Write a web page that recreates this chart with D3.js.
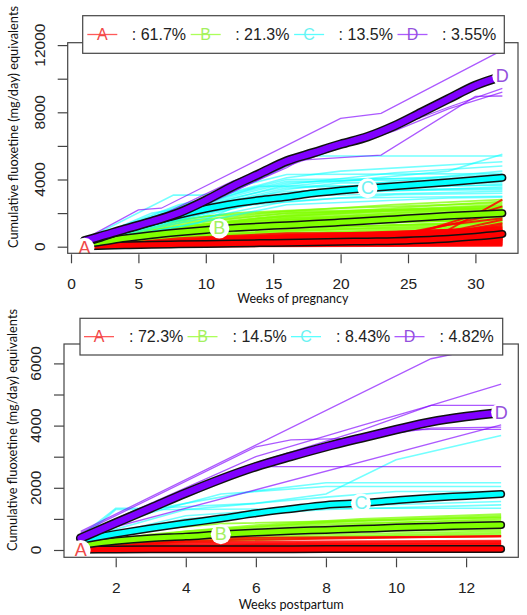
<!DOCTYPE html>
<html><head><meta charset="utf-8">
<script src="https://cdn.jsdelivr.net/npm/d3@7"></script>
<style>body{margin:0;background:#fff;} svg{display:block;}</style>
</head><body>
<svg id="chart" width="527" height="615"></svg>
<script>
// ---------------- DATA ----------------
const classes = ["A", "B", "C", "D"];
const classColors = ["#FF0000", "#80FF00", "#00FFFF", "#8000FF"];

const pregPercents = ["61.7%", "21.3%", "13.5%", "3.55%"];
const postPercents = ["72.3%", "14.5%", "8.43%", "4.82%"];

const pregXTicks = [0, 5, 10, 15, 20, 25, 30];
const pregYTicks = [0, 2000, 4000, 6000, 8000, 10000, 12000];
const pregYLabels = [0, 4000, 8000, 12000];
const postXTicks = [2, 4, 6, 8, 10, 12];
const postYTicks = [0, 1000, 2000, 3000, 4000, 5000, 6000];
const postYLabels = [0, 2000, 4000, 6000];

const pregXTitle = "Weeks of pregnancy";
const postXTitle = "Weeks postpartum";
const yTitle = "Cumulative fluoxetine (mg/day) equivalents";

// class mean trajectories (pregnancy)
const pregMeanWeeks = [1, 2, 4, 6, 8, 10, 12, 14, 16, 18, 20, 22, 24, 26, 28, 30, 32];
const pregMeanA = [30, 40, 80, 110, 140, 165, 190, 215, 240, 265, 290, 315, 340, 400, 480, 600, 760];
const pregMeanB = [150, 250, 500, 700, 860, 1000, 1120, 1200, 1280, 1360, 1450, 1540, 1640, 1740, 1840, 1920, 1990];
const pregMeanC = [250, 480, 1020, 1480, 1900, 2260, 2560, 2780, 2960, 3180, 3340, 3480, 3600, 3720, 3840, 3970, 4110];
const pregMeanD = [350, 570, 1050, 1500, 2020, 2760, 3600, 4350, 5100, 5600, 6100, 6550, 7200, 8000, 8800, 9600, 10150];

// class mean trajectories (postpartum)
const postMeanWeeks = [1, 2, 3, 4, 5, 6, 7, 8, 9, 10, 11, 12, 13];
const postMeanA = [10, 15, 20, 22, 24, 25, 27, 28, 30, 31, 32, 33, 35];
const postMeanB = [160, 290, 380, 430, 505, 560, 610, 645, 680, 720, 750, 780, 805];
const postMeanC = [320, 520, 700, 860, 1010, 1180, 1320, 1450, 1510, 1600, 1680, 1740, 1800];
const postMeanD = [380, 870, 1350, 1830, 2280, 2680, 3010, 3320, 3600, 3870, 4120, 4290, 4420];

// curve label positions [week, value]
const pregLabelPos = [[1, -60], [11, 1090], [22, 3480], [32, 10150]];
const postLabelPos = [[1, 0], [5, 505], [9, 1505], [13, 4420]];

// individual trajectories, pregnancy: [week, cumulative value]
const pregLinesA = [
  [[1,0],[32,100]], [[1,0],[32,200]], [[1,0],[16,150],[32,300]], [[1,50],[16,200],[32,400]],
  [[1,50],[16,300],[32,500]], [[1,0],[16,350],[32,600]], [[1,100],[16,400],[32,700]],
  [[1,0],[16,450],[32,800]], [[1,100],[16,500],[32,900]], [[1,50],[16,600],[32,1000]],
  [[1,100],[16,700],[32,1100]], [[1,0],[12,600],[24,800],[32,900]], [[1,0],[8,500],[16,800],[32,850]],
  [[1,100],[8,400],[16,700],[32,700]], [[1,0],[16,400],[24,700],[28,1000],[32,2800]],
  [[1,0],[20,300],[26,900],[32,2400]], [[1,50],[24,600],[32,2000]], [[1,0],[24,700],[28,1300],[32,1700]],
  [[1,0],[32,50]], [[1,20],[32,150]], [[1,0],[8,100],[32,250]], [[1,0],[20,200],[32,350]],
  [[1,0],[32,450]], [[1,30],[16,250],[32,550]], [[1,0],[24,400],[32,650]], [[1,0],[28,500],[32,750]],
  [[1,0],[10,300],[32,950]], [[1,50],[8,300],[16,500],[32,600]], [[1,0],[16,100],[32,1200]],
  [[1,0],[24,300],[32,1400]], [[1,20],[12,200],[32,500]], [[1,0],[16,50],[32,320]],
  [[1,0],[8,200],[32,420]], [[1,0],[20,500],[32,1050]], [[1,0],[12,350],[26,600],[32,1300]],
  [[1,0],[18,600],[28,900],[32,1600]], [[1,40],[14,450],[32,680]], [[1,0],[22,550],[32,780]],
  [[1,0],[16,200],[32,380]], [[1,0],[16,280],[32,520]], [[1,0],[16,320],[32,580]], [[1,0],[12,250],[32,720]],
  [[1,0],[16,420],[32,820]], [[1,0],[16,520],[32,880]], [[1,0],[20,600],[32,960]], [[1,0],[16,650],[32,1000]],
  [[1,0],[8,250],[24,600],[32,700]], [[1,0],[24,200],[32,260]], [[1,0],[16,80],[32,180]],
  [[1,0],[28,300],[32,900]], [[1,0],[12,150],[32,460]], [[1,0],[20,420],[32,640]], [[1,0],[10,400],[32,1150]],
  [[1,0],[8,150],[20,380],[32,540]], [[1,0],[6,250],[18,560],[32,760]], [[1,0],[14,300],[32,620]],
  [[1,0],[10,200],[26,500],[32,860]], [[1,0],[20,100],[32,480]], [[1,0],[4,150],[20,650],[32,920]]
];
const pregLinesB = [
  [[1,200],[8,1500],[16,2100],[24,2500],[32,2800]], [[1,150],[8,1200],[16,1900],[24,2300],[32,2700]],
  [[1,250],[6,1400],[12,2000],[20,2300],[32,2600]], [[1,100],[8,1100],[16,1800],[24,2200],[32,2500]],
  [[1,150],[8,1300],[16,2000],[32,2400]], [[1,100],[8,900],[16,1600],[24,2000],[32,2350]],
  [[1,200],[8,1400],[16,2000],[32,2300]], [[1,100],[8,1000],[16,1700],[24,2000],[32,2200]],
  [[1,150],[8,800],[16,1500],[24,1900],[32,2100]], [[1,100],[8,1100],[16,1700],[32,2050]],
  [[1,100],[8,900],[16,1400],[24,1750],[32,2000]], [[1,50],[8,700],[16,1300],[24,1650],[32,1900]],
  [[1,100],[8,1000],[16,1500],[32,1850]], [[1,100],[8,800],[16,1300],[24,1600],[32,1800]],
  [[1,50],[8,600],[16,1200],[24,1500],[32,1700]], [[1,100],[8,900],[16,1300],[32,1600]],
  [[1,50],[8,500],[16,1000],[24,1300],[32,1500]], [[1,100],[8,700],[16,1100],[32,1450]],
  [[1,50],[8,500],[16,900],[24,1200],[32,1350]], [[1,100],[8,600],[16,1000],[32,1250]],
  [[1,50],[8,400],[16,800],[24,1000],[32,1150]], [[1,50],[8,500],[16,800],[32,1050]],
  [[1,200],[5,1200],[10,1800],[16,2100],[32,2300]], [[1,150],[6,1000],[12,1500],[20,1700],[32,1900]],
  [[1,100],[8,1000],[16,1600],[32,2150]], [[1,80],[8,750],[16,1250],[32,1650]],
  [[1,120],[8,950],[16,1450],[32,1750]], [[1,80],[8,650],[16,1150],[32,1400]],
  [[1,150],[8,1150],[16,1850],[32,2450]], [[1,60],[8,550],[16,950],[32,1200]],
  [[1,100],[6,900],[14,1700],[24,2100],[32,2250]], [[1,80],[10,1100],[20,1500],[32,1550]]
];
const pregLinesC = [
  [[1,400],[7.6,3070],[9.6,3070],[12,3300],[17.5,5400],[32,5400]],
  [[1,300],[8,2200],[16,3600],[24,4200],[28,4500],[32,5500]],
  [[1,350],[8,2400],[16,4100],[20,4500],[32,5060]], [[1,300],[8,2000],[16,3700],[24,4400],[32,4800]],
  [[1,300],[8,2300],[12,3500],[16,4300],[32,4350]], [[1,250],[8,1800],[16,3200],[24,3900],[32,4500]],
  [[1,250],[8,1900],[16,3400],[20,3800],[32,3800]], [[1,300],[8,2100],[14,3600],[32,3650]],
  [[1,250],[8,1500],[16,3000],[24,3400],[32,3480]], [[1,200],[8,1700],[16,3000],[32,3300]],
  [[1,200],[8,1400],[16,2700],[24,3100],[32,3180]], [[1,250],[8,1600],[12,2400],[20,2900],[32,3000]],
  [[1,200],[8,1200],[16,2500],[28,2900],[32,2950]], [[1,300],[6,2000],[10,2500],[16,3300],[32,3400]],
  [[1,200],[9.4,1390],[12,2300],[16,3000],[24,3600],[32,4200]], [[1,350],[8,2500],[12,3200],[16,4000],[32,4100]],
  [[1,300],[8,2300],[16,3900],[32,4000]], [[1,250],[8,1700],[16,2900],[24,3500],[32,3700]],
  [[1,250],[8,2000],[16,3500],[32,3900]], [[1,300],[8,2200],[16,3800],[32,4300]],
  [[1,200],[8,1600],[16,3100],[32,3550]]
];
const pregLinesD = [
  [[1,450],[5,2190],[6.7,2290],[20,7640],[23,7940],[32,11700]],
  [[1,400],[8,1900],[16,4700],[17,5150],[23,5450],[30,8950],[32,8970]],
  [[1,420],[8,1750],[16,4950],[20,6000],[23,6800],[28,8300],[32,9430]],
  [[1,380],[8,1700],[16,4800],[20,5900],[24,6900],[28,8200],[32,9200]],
  [[1,500],[7,2000],[12,3900],[16,5000],[23,6800],[32,10100]]
];

// individual trajectories, postpartum
const postLinesA = [
  [[1,0],[3,250],[13,300]], [[1,0],[2,150],[13,220]], [[1,0],[4,300],[13,450]], [[1,0],[5,100],[13,150]],
  [[1,0],[13,50]], [[1,0],[13,80]], [[1,0],[13,10]], [[1,0],[13,100]], [[1,20],[13,60]],
  [[1,0],[4,40],[13,90]], [[1,0],[3,380],[13,430]], [[1,0],[2,120],[13,130]],
  [[1,0],[3,200],[13,260]], [[1,0],[6,170],[13,190]]
];
const postLinesB = [
  [[1,200],[3,500],[6,800],[9,1000],[13,1150]], [[1,150],[3,450],[6,750],[9,950],[13,1100]],
  [[1,180],[4,600],[8,900],[13,1050]], [[1,150],[4,500],[8,800],[13,1000]],
  [[1,120],[3,350],[6,600],[9,800],[13,900]], [[1,150],[4,450],[8,700],[13,850]],
  [[1,100],[3,300],[6,500],[9,650],[13,750]], [[1,120],[4,400],[8,600],[13,700]],
  [[1,100],[4,350],[8,500],[13,600]], [[1,80],[3,250],[7,420],[13,550]],
  [[1,80],[4,300],[8,420],[13,500]], [[1,60],[4,250],[8,380],[13,450]],
  [[1,200],[2,550],[5,850],[13,1050]], [[1,150],[4,550],[8,850],[13,950]],
  [[1,100],[4,420],[8,650],[13,800]], [[1,90],[5,450],[9,600],[13,650]]
];
const postLinesC = [
  [[1,450],[2,1340],[3,1340],[6,1500],[8,1800],[10,2900],[13,3680]],
  [[1,500],[3,1300],[6,1900],[8,2160],[13,2160]], [[1,400],[3,1200],[5,1800],[8,2040],[13,2040]],
  [[1,350],[4,1300],[8,1700],[10,1880],[13,1880]], [[1,300],[4,1100],[8,1400],[13,1560]],
  [[1,300],[4,1000],[8,1300],[13,1450]], [[1,350],[2,1300],[4,1300],[8,1340],[13,1340]]
];
const postLinesD = [
  [[1,600],[11,6150],[13,6620]], [[1,500],[3,1500],[6,3000],[9,4000],[11,4650],[13,5330]],
  [[1,450],[4,1900],[6,2800],[9,3850],[11,4650],[13,4650]], [[1,450],[13,4020]],
  [[1,400],[4,1900],[6,2750],[8,3300],[10,3850],[11,3880],[13,3880]],
  [[1,550],[6,3320],[7,3540],[9,3600],[11,3920],[13,3950]], [[1,400],[4,1800],[6,2680],[13,2680]]
];

// ---------------- LAYOUT ----------------
const panels = [
  {
    box: {x0: 67.7, x1: 518, y0: 42.7, y1: 253.3},
    xDomain: [-0.245, 33.16], yDomain: [-393, 12143],
    xTicks: pregXTicks, yTicks: pregYTicks, yLabels: pregYLabels,
    meanWeeks: pregMeanWeeks, means: [pregMeanA, pregMeanB, pregMeanC, pregMeanD],
    lines: [pregLinesA, pregLinesB, pregLinesC, pregLinesD],
    labels: pregLabelPos, percents: pregPercents,
    legend: {x0: 82.7, x1: 504.3, y0: 15.7, y1: 53.3, first: 87.3, step: 103.4, textOff: 44.5},
    xTitle: pregXTitle, xTitleY: 298, xTitleLen: 111,
    yTitleX: 13, yTitleY: 127, yLabelX: 39
  },
  {
    box: {x0: 64, x1: 518.3, y0: 344, y1: 557.3},
    xDomain: [0.524, 13.49], yDomain: [-235, 6624],
    xTicks: postXTicks, yTicks: postYTicks, yLabels: postYLabels,
    meanWeeks: postMeanWeeks, means: [postMeanA, postMeanB, postMeanC, postMeanD],
    lines: [postLinesA, postLinesB, postLinesC, postLinesD],
    labels: postLabelPos, percents: postPercents,
    legend: {x0: 80, x1: 502.7, y0: 318.3, y1: 355, first: 84, step: 103.5, textOff: 45},
    xTitle: postXTitle, xTitleY: 604.5, xTitleLen: 105,
    yTitleX: 12, yTitleY: 430, yLabelX: 35
  }
];

const svg = d3.select("#chart");
const tickFont = "'Liberation Sans', Arial, sans-serif";
const titleFont = "Lato, 'Open Sans', sans-serif";
const axisColor = "#444";
const thinOpacity = [0.85, 0.75, 0.55, 0.65];
const thinWidth = [2, 1.8, 1.6, 1.3];
const labelColors = ["#F04848", "#A4F060", "#6CF2F2", "#9450DC"];

panels.forEach((p, pi) => {
  const g = svg.append("g");
  const b = p.box;
  const x = d3.scaleLinear().domain(p.xDomain).range([b.x0, b.x1]);
  const y = d3.scaleLinear().domain(p.yDomain).range([b.y1, b.y0]);

  const clipId = "clip" + pi;
  svg.append("clipPath").attr("id", clipId).append("rect")
    .attr("x", b.x0).attr("y", b.y0).attr("width", b.x1 - b.x0).attr("height", b.y1 - b.y0);

  const plot = g.append("g").attr("clip-path", `url(#${clipId})`);
  const line = d3.line().x(d => x(d[0])).y(d => y(d[1]));

  // thin individual lines: B, C, D, then A
  [1, 2, 3, 0].forEach(ci => {
    plot.append("g").selectAll("path").data(p.lines[ci]).join("path")
      .attr("d", line)
      .attr("fill", "none")
      .attr("stroke", classColors[ci])
      .attr("stroke-opacity", thinOpacity[ci])
      .attr("stroke-width", thinWidth[ci]);
  });

  // mean curves
  const meanLine = d3.line().curve(d3.curveMonotoneX)
    .x((d, i) => x(p.meanWeeks[i])).y(d => y(d));
  p.means.forEach((m, ci) => {
    const outer = ci === 3 ? 9.5 : 8;
    const inner = ci === 3 ? 6.5 : 5;
    plot.append("path").attr("d", meanLine(m)).attr("fill", "none")
      .attr("stroke", "#111").attr("stroke-width", outer).attr("stroke-linecap", "round").attr("stroke-linejoin", "round");
    plot.append("path").attr("d", meanLine(m)).attr("fill", "none")
      .attr("stroke", classColors[ci]).attr("stroke-width", inner).attr("stroke-linecap", "round").attr("stroke-linejoin", "round");
  });

  // curve labels
  p.labels.forEach((pos, ci) => {
    const cx = x(pos[0]), cy = y(pos[1]);
    g.append("circle").attr("cx", cx).attr("cy", cy).attr("r", 10).attr("fill", "#fff");
    g.append("text").attr("x", cx).attr("y", cy).attr("text-anchor", "middle")
      .attr("dominant-baseline", "central").attr("font-family", tickFont).attr("font-size", 18)
      .attr("fill", labelColors[ci]).text(classes[ci]);
  });

  // box
  g.append("rect").attr("x", b.x0).attr("y", b.y0).attr("width", b.x1 - b.x0).attr("height", b.y1 - b.y0)
    .attr("fill", "none").attr("stroke", axisColor).attr("stroke-width", 1.2);

  // x axis
  const xAxis = d3.axisBottom(x).tickValues(p.xTicks).tickSize(9).tickPadding(14.6);
  const xa = g.append("g").attr("transform", `translate(0,${b.y1 + 1})`).call(xAxis);
  xa.select(".domain").remove();
  xa.selectAll("line").attr("stroke", axisColor).attr("stroke-width", 1.2);
  xa.selectAll("text").attr("font-family", tickFont).attr("font-size", 15.5).attr("fill", "#222");

  // y axis
  const yAxis = d3.axisLeft(y).tickValues(p.yTicks).tickSize(10).tickFormat("");
  const ya = g.append("g").attr("transform", `translate(${b.x0},0)`).call(yAxis);
  ya.select(".domain").remove();
  ya.selectAll("line").attr("stroke", axisColor).attr("stroke-width", 1.2);
  g.selectAll(null).data(p.yLabels).join("text")
    .attr("transform", d => `translate(${p.yLabelX},${y(d)}) rotate(-90)`)
    .attr("text-anchor", "middle").attr("dominant-baseline", "central")
    .attr("font-family", tickFont).attr("font-size", 15.5).attr("fill", "#222")
    .text(d => d);

  // titles
  g.append("text").attr("x", (b.x0 + b.x1) / 2).attr("y", p.xTitleY)
    .attr("text-anchor", "middle").attr("dominant-baseline", "central")
    .attr("font-family", titleFont).attr("font-size", 12.5).attr("fill", "#111")
    .attr("textLength", p.xTitleLen).attr("lengthAdjust", "spacingAndGlyphs")
    .text(p.xTitle);
  g.append("text").attr("transform", `translate(${p.yTitleX},${p.yTitleY}) rotate(-90)`)
    .attr("text-anchor", "middle").attr("dominant-baseline", "central")
    .attr("font-family", titleFont).attr("font-size", 13).attr("fill", "#111")
    .attr("textLength", 242).attr("lengthAdjust", "spacingAndGlyphs")
    .text(yTitle);

  // legend
  const L = p.legend;
  const lg = g.append("g");
  lg.append("rect").attr("x", L.x0).attr("y", L.y0).attr("width", L.x1 - L.x0).attr("height", L.y1 - L.y0)
    .attr("fill", "#fff").attr("stroke", axisColor).attr("stroke-width", 1.2);
  const ly = (L.y0 + L.y1) / 2;
  classes.forEach((c, ci) => {
    const lx = L.first + ci * L.step;
    lg.append("line").attr("x1", lx).attr("x2", lx + 30).attr("y1", ly).attr("y2", ly)
      .attr("stroke", classColors[ci]).attr("stroke-opacity", 0.65).attr("stroke-width", 1.3);
    lg.append("text").attr("x", lx + 15).attr("y", ly).attr("text-anchor", "middle")
      .attr("dominant-baseline", "central").attr("font-family", tickFont).attr("font-size", 16)
      .attr("fill", labelColors[ci]).text(c);
    lg.append("text").attr("x", lx + L.textOff).attr("y", ly)
      .attr("dominant-baseline", "central").attr("font-family", tickFont).attr("font-size", 16)
      .attr("fill", "#222").text(": " + p.percents[ci]);
  });
});
</script>
</body></html>
